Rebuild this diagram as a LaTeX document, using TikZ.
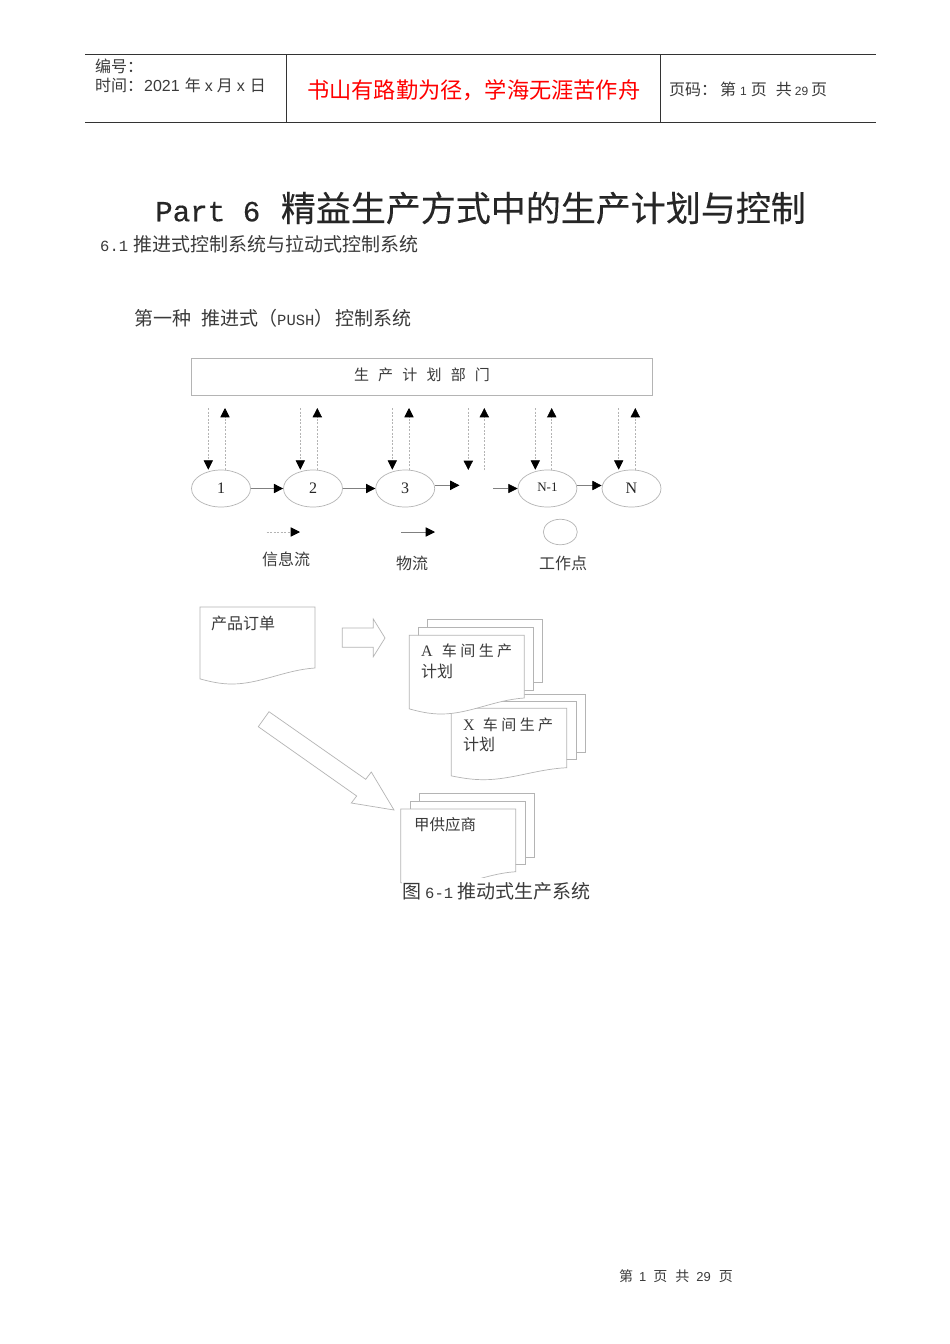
\documentclass[tikz,border=0pt]{standalone}
\usepackage{fontspec}
\setmainfont{Noto Sans CJK SC}
\newfontfamily\titlefont[FakeBold=0.25]{Noto Sans CJK SC}
\newfontfamily\lmono{Liberation Mono}
\newfontfamily\lmonot[FakeBold=0.4]{Liberation Mono}
\newfontfamily\lsans{Liberation Sans}
\newfontfamily\lserif{Liberation Serif}
\usetikzlibrary{arrows.meta,shapes.geometric}
\newcommand\fs[1]{\fontsize{#1}{#1}\selectfont}
\definecolor{ink}{HTML}{3A3A3A}
\definecolor{ln}{HTML}{B4B4B4}
\tikzset{
  txt/.style={inner sep=0pt,anchor=west,text=ink},
  ruleline/.style={draw=black!80,line width=0.7pt},
  workpoint/.style={ellipse,draw=ln,line width=0.7pt,inner sep=0pt,fill=white,text=black!85,font=\lserif\fs{16}},
  planbox/.style={draw=ln,line width=0.8pt,inner sep=0pt},
  tipb/.style={-{Triangle[length=9.3pt,width=9.3pt,color=black,fill=black]}},
  infoflow/.style={tipb,draw=ln,line width=0.7pt,dash pattern=on 2pt off 1.5pt},
  matflow/.style={tipb,draw=black!50,line width=0.7pt},
  docline/.style={draw=ln,line width=0.7pt,fill=white},
}
% x1 x2 ytop yrightbottom depth
\newcommand\wdoc[5]{\path[docline] (#1,#3) -- (#2,#3) -- (#2,#4) .. controls (#2-30,#4+#5*0.12) and (#2-55,#4+#5) .. (#2-83,#4+#5) .. controls (#2-95,#4+#5) and (#1+10,#4+#5*0.85) .. (#1,#4+#5*0.68) -- cycle;}
\begin{document}
\begin{tikzpicture}[x=1pt,y=-1pt]
\useasboundingbox[fill=white] (0,0) rectangle (950,1344);
% header
\coordinate (hl1) at (85,54.5); \coordinate (hr1) at (876,54.5);
\coordinate (hl2) at (85,122.5); \coordinate (hr2) at (876,122.5);
\coordinate (v1) at (286.5,54.5); \coordinate (v2) at (660,54.5);
\draw[ruleline] (hl1) -- (hr1);
\draw[ruleline] (hl2) -- (hr2);
\draw[ruleline] (v1) -- (v1 |- hl2);
\draw[ruleline] (v2) -- (v2 |- hl2);
\node[txt] (h1) at (95,66) {\fs{16}编号：};
\node[txt] (h2) at (95,85) {\fs{16}时间：\kern1pt{\lsans 2021}\kern5pt 年\kern4pt{\lsans x}\kern4pt 月\kern4pt{\lsans x}\kern5pt 日};
\node[txt,text=red] (h3) at (307,90) {\fs{22.2}书山有路勤为径，学海无涯苦作舟};
\node[txt] (h4) at (669,89) {\fs{16}页码：\kern3pt 第\kern4pt{\lsans\fs{12}1}\kern4pt 页\kern9pt 共\kern3pt{\lsans\fs{12}29}\kern3pt 页};
% titles
\node[txt,text=black!85] (title) at (155,208) {{\lmonot\fs{29.2}Part 6 }\kern3pt\titlefont\fs{35}精益生产方式中的生产计划与控制};
\node[txt] (sec) at (100,244) {{\lmono\fs{15.5}6.1}\kern5.5pt\fs{19}推进式控制系统与拉动式控制系统};
\node[txt] (sub) at (134,318.5) {\fs{19}第一种\kern10pt 推进式（{\lmono\fs{15.5}PUSH}）\kern2pt 控制系统};
% planning box
\node[planbox,minimum width=461pt,minimum height=37pt] (plan) at (422,376.5) {};
\node[txt,anchor=center] (plant) at (422,374.5) {\fs{15}生\hspace{9.2pt}产\hspace{9.2pt}计\hspace{9.2pt}划\hspace{9.2pt}部\hspace{9.2pt}门};
% stations
\node[workpoint,minimum width=59pt,minimum height=37pt] (e1) at (221,488.5) {\raisebox{1pt}{1}};
\node[workpoint,minimum width=59pt,minimum height=37pt] (e2) at (313,488.5) {\raisebox{1pt}{2}};
\node[workpoint,minimum width=59pt,minimum height=37pt] (e3) at (405.2,488.5) {\raisebox{1pt}{3}};
\node[workpoint,minimum width=59pt,minimum height=37pt] (e4) at (547.4,488.5) {\raisebox{3.5pt}{\fs{13}N-1}};
\node[workpoint,minimum width=59pt,minimum height=37pt] (e5) at (631.5,488.5) {\raisebox{1pt}{N}};
% information flow
\foreach \n/\dx/\ux/\e in {a/208.3/225/e1,b/300.3/317.3/e2,c/392.3/409/e3,e/535.3/551.7/e4,f/618.7/635.3/e5}{
  \coordinate (d\n) at (\dx,408);
  \coordinate (u\n) at (\ux,408);
  \draw[infoflow] (d\n) -- (d\n |- \e.north);
  \draw[infoflow] (u\n |- \e.north) -- (u\n);
}
\coordinate (dd) at (468.3,408); \coordinate (ddb) at (468.3,470);
\coordinate (ud) at (484.3,408); \coordinate (udb) at (484.3,470);
\draw[infoflow] (dd) -- (ddb);
\draw[infoflow] (udb) -- (ud);
% material flow
\draw[matflow] (e1.east) -- (e2.west);
\draw[matflow] (e2.east) -- (e3.west);
\coordinate (gapa) at (459.5,485.3);
\coordinate (gapb) at (493.3,488.5);
\draw[matflow] (e3.east |- gapa) -- (gapa);
\draw[matflow] (gapb) -- (e4.west);
\draw[matflow] ([yshift=3pt]e4.east) -- ([yshift=3pt]e5.west);
% legend
\coordinate (la1) at (266.7,532); \coordinate (la2) at (300,532);
\coordinate (lb1) at (401,532); \coordinate (lb2) at (435,532);
\draw[infoflow] (la1) -- (la2);
\draw[matflow] (lb1) -- (lb2);
\node[workpoint,minimum width=34pt,minimum height=25.5pt] (le) at (560.3,532) {};
\node[txt] (t1) at (262,559) {\fs{16}信息流};
\node[txt] (t2) at (396,563) {\fs{16}物流};
\node[txt] (t3) at (539,563) {\fs{16}工作点};
% order doc
\wdoc{200}{315}{607}{668}{16}
\node[txt] (order) at (211,623) {\fs{16}产品订单};
% block arrows
\path[docline] (342.3,628) -- (373.3,628) -- (373.3,619) -- (385,638) -- (373.3,656.7) -- (373.3,647.3) -- (342.3,647.3) -- cycle;
\path[docline] (269,711.7) -- (365.7,779.3) -- (371.3,772) -- (394,810) -- (351.3,803) -- (356.7,796) -- (258.3,726.7) -- cycle;
% X plan stack
\path[docline] (469.3,694) rectangle (585.7,752);
\path[docline] (460.3,701) rectangle (576,759.3);
\wdoc{451.3}{566.7}{708.3}{767.7}{12}
% A plan stack
\path[docline] (427.3,619.3) rectangle (542.7,682.7);
\path[docline] (418.3,627.3) rectangle (533.3,690.7);
\wdoc{409.3}{524.3}{635.3}{698}{16}
\node[txt] (a1) at (421,651) {{\lserif\fs{16}A}\kern9pt\fs{15}车\kern3.5pt 间\kern3.5pt 生\kern3.5pt 产};
\node[txt] (a2) at (421,671) {\fs{16}计划};
\node[txt] (x1) at (463,725) {{\lserif\fs{16}X}\kern8pt\fs{15}车\kern3.5pt 间\kern3.5pt 生\kern3.5pt 产};
\node[txt] (x2) at (463,744) {\fs{16}计划};
% supplier stack
\path[docline] (419.3,793.3) rectangle (534.3,857.3);
\path[docline] (410,801) rectangle (525,864);
\wdoc{400.7}{515.7}{809}{871.7}{16}
\node[txt] (sup) at (414,825) {\fs{15.5}甲供应商};
% caption
\node[txt,fill=white,minimum height=26pt] (cap) at (402,891) {\fs{19}图\kern4pt{\lmono\fs{15.5}6-1}\kern4pt 推动式生产系统};
% footer
\node[txt] (foot) at (619,1276) {\fs{14}第\kern6pt{\lsans\fs{13}1}\kern7pt 页\kern8pt 共\kern7pt{\lsans\fs{13}29}\kern8pt 页};
\end{tikzpicture}
\end{document}
